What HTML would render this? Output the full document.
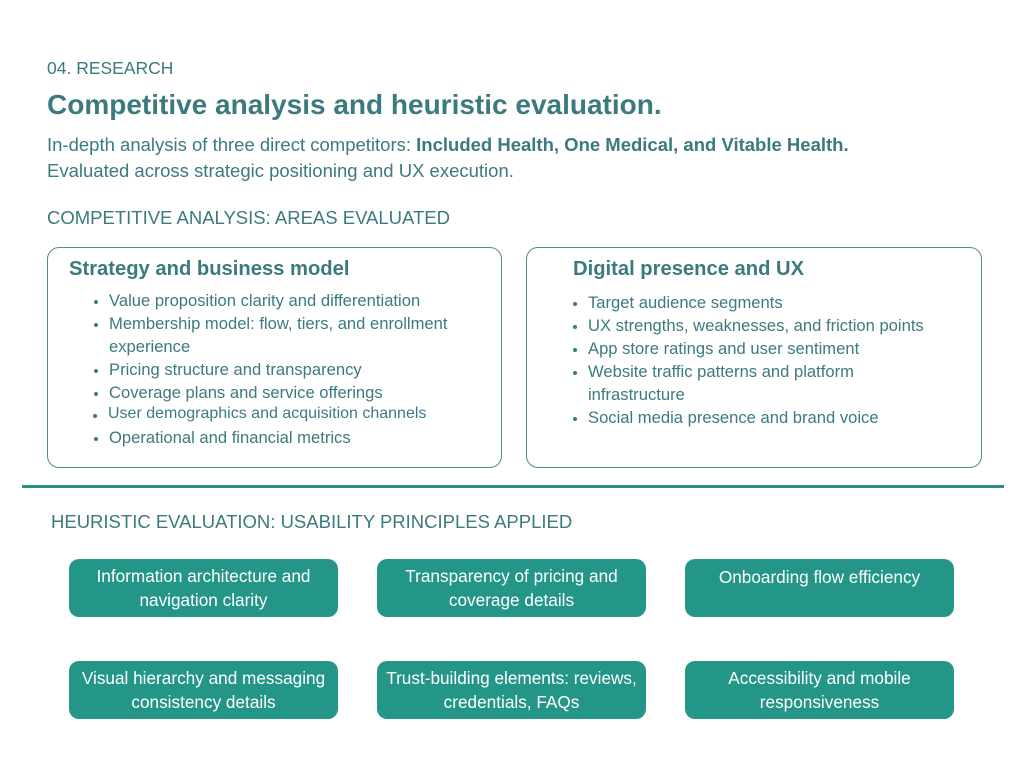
<!DOCTYPE html>
<html><head><meta charset="utf-8"><style>
*{margin:0;padding:0;box-sizing:border-box}
body{width:1024px;height:768px;background:#fff;position:relative;overflow:hidden;font-family:"Liberation Sans",sans-serif;color:#3b7a7e}
.a{position:absolute;white-space:nowrap}
.box{position:absolute;border:1px solid #4f8a8e;border-radius:12px}
.t{font-weight:bold;font-size:20.2px}
.li{position:absolute;font-size:16.6px;white-space:nowrap}
.li:before{content:"";position:absolute;left:-15px;top:9px;width:4px;height:4px;border-radius:50%;background:#3b7a7e}
.btn{position:absolute;width:269px;height:58px;background:#249688;border-radius:10px;color:#fff;font-size:17.2px;text-align:center;line-height:24px;display:flex;align-items:center;justify-content:center;white-space:nowrap}
</style></head><body>
<div class="a" style="left:47px;top:58px;font-size:17.5px">04. RESEARCH</div>
<div class="a" style="left:47px;top:89px;font-size:28px;font-weight:bold">Competitive analysis and heuristic evaluation.</div>
<div class="a" style="left:47px;top:134px;font-size:18.5px">In-depth analysis of three direct competitors: <b>Included Health, One Medical, and Vitable Health.</b></div>
<div class="a" style="left:47px;top:160px;font-size:18.5px">Evaluated across strategic positioning and UX execution.</div>
<div class="a" style="left:47px;top:207px;font-size:18.5px">COMPETITIVE ANALYSIS: AREAS EVALUATED</div>

<div class="box" style="left:47px;top:247px;width:455px;height:221px"></div>
<div class="a t" style="left:69px;top:258px">Strategy and business model</div>
<div class="li" style="left:109px;top:291px">Value proposition clarity and differentiation</div>
<div class="li" style="left:109px;top:314px">Membership model: flow, tiers, and enrollment</div>
<div class="a" style="left:109px;top:337px;font-size:16.6px">experience</div>
<div class="li" style="left:109px;top:360px">Pricing structure and transparency</div>
<div class="li" style="left:109px;top:383px">Coverage plans and service offerings</div>
<div class="li" style="left:108px;top:405px;font-size:16px">User demographics and acquisition channels</div>
<div class="li" style="left:109px;top:428px">Operational and financial metrics</div>

<div class="box" style="left:526px;top:247px;width:456px;height:221px"></div>
<div class="a t" style="left:573px;top:258px">Digital presence and UX</div>
<div class="li" style="left:588px;top:293px">Target audience segments</div>
<div class="li" style="left:588px;top:316px">UX strengths, weaknesses, and friction points</div>
<div class="li" style="left:588px;top:339px">App store ratings and user sentiment</div>
<div class="li" style="left:588px;top:362px">Website traffic patterns and platform</div>
<div class="a" style="left:588px;top:385px;font-size:16.6px">infrastructure</div>
<div class="li" style="left:588px;top:408px">Social media presence and brand voice</div>

<div class="a" style="left:22px;top:485px;width:982px;height:3px;background:#2a9187"></div>
<div class="a" style="left:51px;top:511px;font-size:18.5px">HEURISTIC EVALUATION: USABILITY PRINCIPLES APPLIED</div>

<div class="btn" style="left:69px;top:559px">Information architecture and<br>navigation clarity</div>
<div class="btn" style="left:377px;top:559px">Transparency of pricing and<br>coverage details</div>
<div class="btn" style="left:685px;top:559px;align-items:flex-start;padding-top:6px">Onboarding flow efficiency</div>
<div class="btn" style="left:69px;top:661px">Visual hierarchy and messaging<br>consistency details</div>
<div class="btn" style="left:377px;top:661px">Trust-building elements: reviews,<br>credentials, FAQs</div>
<div class="btn" style="left:685px;top:661px">Accessibility and mobile<br>responsiveness</div>
</body></html>
